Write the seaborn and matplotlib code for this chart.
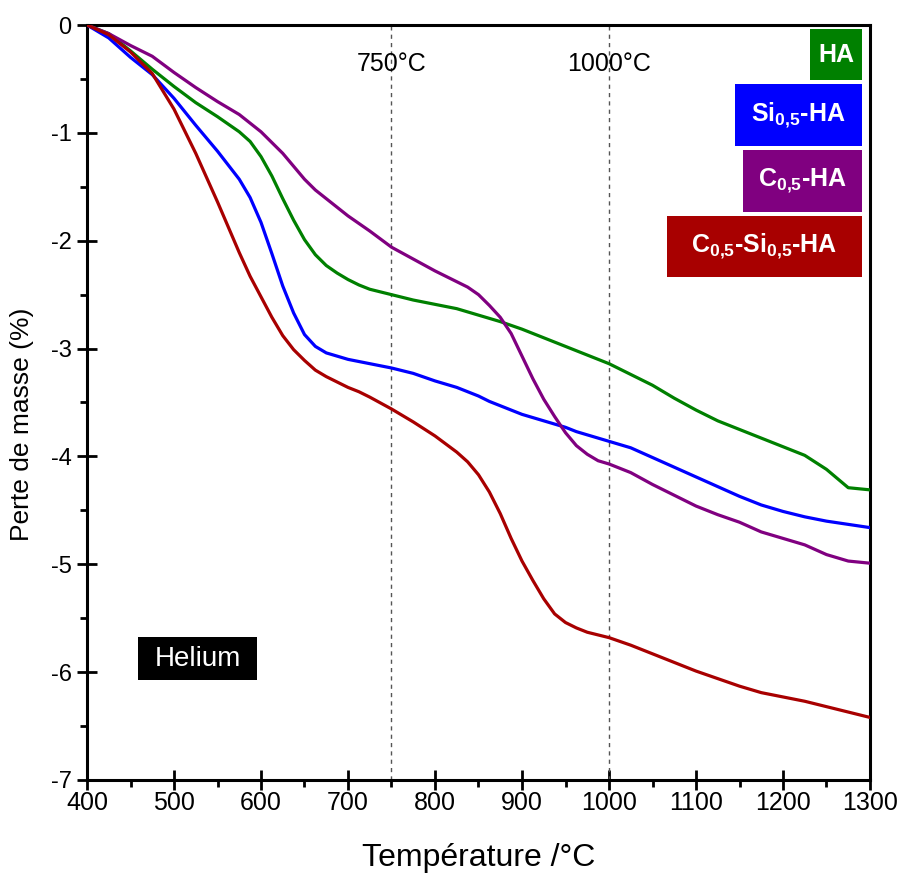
import matplotlib
matplotlib.use("Agg")
import matplotlib.pyplot as plt
import seaborn as sns
import pandas as pd
from matplotlib.patches import Rectangle
from matplotlib.ticker import MultipleLocator

# ---------------- data ----------------
temperature = [400, 425, 450, 475, 500, 525, 550, 575,
               587.5, 600, 612.5, 625, 637.5, 650, 662.5, 675, 687.5, 700, 712.5,
               725, 750, 775, 800, 825,
               837.5, 850, 862.5, 875, 887.5, 900, 912.5, 925, 937.5, 950,
               962.5, 975, 987.5,
               1000, 1025, 1050, 1075, 1100, 1125, 1150, 1175, 1200, 1225,
               1250, 1275, 1300]

mass_HA = [0, -0.08, -0.24, -0.41, -0.57, -0.72, -0.85, -0.99,
           -1.08, -1.22, -1.40, -1.61, -1.81, -1.99, -2.13, -2.23, -2.30, -2.36, -2.41,
           -2.45, -2.50, -2.55, -2.59, -2.63,
           -2.66, -2.69, -2.72, -2.75, -2.785, -2.82, -2.86, -2.90, -2.94, -2.98,
           -3.02, -3.06, -3.10,
           -3.14, -3.24, -3.34, -3.46, -3.57, -3.67, -3.75, -3.83, -3.91, -3.99,
           -4.12, -4.29, -4.31]

mass_Si = [0, -0.12, -0.30, -0.46, -0.68, -0.93, -1.17, -1.43,
           -1.60, -1.83, -2.12, -2.42, -2.67, -2.87, -2.98, -3.04, -3.07, -3.10, -3.12,
           -3.14, -3.18, -3.23, -3.30, -3.36,
           -3.40, -3.44, -3.49, -3.53, -3.57, -3.61, -3.64, -3.67, -3.70, -3.73,
           -3.77, -3.80, -3.83,
           -3.86, -3.92, -4.01, -4.10, -4.19, -4.28, -4.37, -4.45, -4.51, -4.56,
           -4.60, -4.63, -4.66]

mass_C = [0, -0.08, -0.19, -0.29, -0.44, -0.58, -0.71, -0.83,
          -0.91, -0.99, -1.09, -1.19, -1.31, -1.43, -1.53, -1.61, -1.69, -1.77, -1.84,
          -1.91, -2.06, -2.17, -2.28, -2.38,
          -2.43, -2.50, -2.60, -2.71, -2.86, -3.07, -3.28, -3.47, -3.63, -3.78,
          -3.90, -3.98, -4.04,
          -4.07, -4.15, -4.26, -4.36, -4.46, -4.54, -4.61, -4.70, -4.76, -4.82,
          -4.91, -4.97, -4.99]

mass_CSi = [0, -0.09, -0.25, -0.45, -0.78, -1.19, -1.64, -2.11,
            -2.33, -2.52, -2.71, -2.88, -3.01, -3.11, -3.20, -3.26, -3.31, -3.36, -3.40,
            -3.45, -3.56, -3.68, -3.81, -3.96,
            -4.05, -4.17, -4.33, -4.53, -4.76, -4.97, -5.15, -5.32, -5.46, -5.54,
            -5.59, -5.63, -5.655,
            -5.68, -5.75, -5.83, -5.91, -5.99, -6.06, -6.13, -6.19, -6.23, -6.27,
            -6.32, -6.37, -6.42]

samples = ["HA", "Si-HA", "C-HA", "C-Si-HA"]
legend_labels = [r"HA",
                 r"Si$_{\mathbf{0{,}5}}$-HA",
                 r"C$_{\mathbf{0{,}5}}$-HA",
                 r"C$_{\mathbf{0{,}5}}$-Si$_{\mathbf{0{,}5}}$-HA"]
colors = ["#008000", "#0000FF", "#800080", "#A80000"]

x_ticks = list(range(400, 1301, 100))
y_ticks = list(range(-7, 1))
marker_temps = [750, 1000]
marker_labels = ["750°C", "1000°C"]

# ---------------- styling ----------------
sns.set_theme(style="white")
plt.rcParams["font.family"] = ["Liberation Sans", "DejaVu Sans"]
plt.rcParams["mathtext.fontset"] = "custom"
plt.rcParams["mathtext.rm"] = "Liberation Sans"
plt.rcParams["mathtext.bf"] = "Liberation Sans:bold"
plt.rcParams["axes.unicode_minus"] = False
for key in ["text.color", "axes.labelcolor", "xtick.color", "ytick.color",
            "axes.edgecolor"]:
    plt.rcParams[key] = "black"

fig = plt.figure(figsize=(9.04, 8.74), dpi=100)
fig.patch.set_facecolor("white")
ax = fig.add_axes([87 / 904, 1 - 780 / 874, 783 / 904, 755 / 874])

frames = []
for name, vals in zip(samples, [mass_HA, mass_Si, mass_C, mass_CSi]):
    frames.append(pd.DataFrame({"T": temperature, "mass": vals, "sample": name}))
df = pd.concat(frames, ignore_index=True)

sns.lineplot(data=df, x="T", y="mass", hue="sample", hue_order=samples,
             palette=colors, linewidth=2.3, legend=False, sort=False, ax=ax,
             zorder=3)
for ln in ax.lines:
    ln.set_solid_joinstyle("round")
    ln.set_solid_capstyle("round")

ax.set_xlim(400, 1300)
ax.set_ylim(-7, 0)
ax.set_xticks(x_ticks)
ax.set_yticks(y_ticks)
ax.xaxis.set_minor_locator(MultipleLocator(50))
ax.yaxis.set_minor_locator(MultipleLocator(0.5))

for s in ax.spines.values():
    s.set_linewidth(2.2)
    s.set_color("black")

ax.tick_params(which="major", direction="inout", length=14, width=2,
               color="black", labelcolor="black",
               bottom=True, left=True, top=False, right=False)
ax.tick_params(which="minor", direction="out", length=5, width=2,
               color="black", bottom=True, left=True, top=False, right=False)
ax.tick_params(axis="x", which="major", labelsize=18, pad=1)
ax.tick_params(axis="y", which="major", labelsize=17, pad=4)

ax.set_xlabel("Température /°C", fontsize=23, color="black")
ax.set_ylabel("Perte de masse (%)", fontsize=19, color="black")
ax.xaxis.set_label_coords(0.5, -0.084)
ax.yaxis.set_label_coords(-0.068, 0.471)

# vertical dashed markers
for t, lab in zip(marker_temps, marker_labels):
    ax.axvline(t, color="#555555", linestyle=(0, (3, 3)), linewidth=1, zorder=1)
    ax.text(t, -0.36, lab, ha="center", va="center", fontsize=18, color="black")

# coloured legend boxes (pixel extents converted to axes fraction)
def px_box(x0, x1, y0, y1):
    return ((x0 - 87) / 783, (780 - y1) / 755, (x1 - x0) / 783, (y1 - y0) / 755)

boxes = [px_box(810, 862, 29, 80), px_box(735, 862, 84, 146),
         px_box(743, 862, 150, 212), px_box(667, 862, 216, 277)]
for (bx, by, bw, bh), lab, col in zip(boxes, legend_labels, colors):
    ax.add_patch(Rectangle((bx, by), bw, bh, transform=ax.transAxes,
                           facecolor=col, edgecolor="none", zorder=5,
                           clip_on=False))
    ax.text(bx + bw / 2, by + bh / 2, lab, transform=ax.transAxes,
            ha="center", va="center", fontsize=18, fontweight="bold",
            color="white", zorder=6)

# Helium label
hx, hy, hw, hh = px_box(138, 257, 637, 680)
ax.add_patch(Rectangle((hx, hy), hw, hh, transform=ax.transAxes,
                       facecolor="black", edgecolor="none", zorder=5))
ax.text(hx + hw / 2, hy + hh / 2, "Helium", transform=ax.transAxes,
        ha="center", va="center", fontsize=20, color="white", zorder=6)

fig.savefig("out.png", dpi=100, facecolor="white")
